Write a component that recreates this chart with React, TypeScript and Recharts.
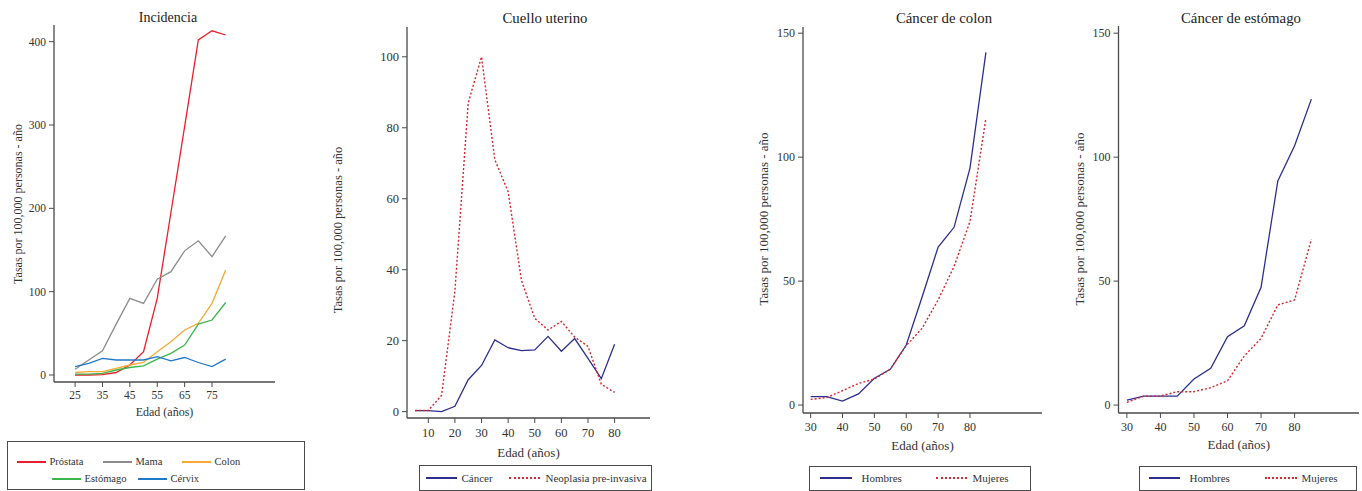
import React from 'react';
import { LineChart, Line, XAxis, YAxis } from 'recharts';

const FONT = '"Liberation Serif", "DejaVu Serif", serif';
const AXIS = '#4a4a4a';
const TEXT = '#333';
const H = 491;

// Incidencia (ages 25..80)
const ages1 = [25, 30, 35, 40, 45, 50, 55, 60, 65, 70, 75, 80];
const prostata = [0, 0, 0.5, 3, 12, 28, 92, 195, 298, 402, 413, 408];
const mama = [7, 18, 29, 61, 92, 86, 115, 124, 149, 161, 142, 167];
const colon = [3, 4, 4, 8, 12, 15, 28, 40, 54, 62, 86, 126];
const estomago = [1, 1, 2, 6, 9, 11, 19, 26, 36, 61, 66, 87];
const cervix = [10, 14, 20, 18, 18, 18, 22, 17, 21, 15, 10, 19];

// Cuello uterino (ages 5..80)
const ages2 = [5, 10, 15, 20, 25, 30, 35, 40, 45, 50, 55, 60, 65, 70, 75, 80];
const cancer = [0.3, 0.3, 0, 1.5, 9, 13, 20.2, 18, 17.2, 17.4, 21.2, 17, 20.6, 15, 9.3, 19];
const neoplasia = [0.3, 0.3, 4.6, 34, 87, 100, 71, 62, 37, 26.3, 23, 25.4, 21, 18.4, 7.7, 5.4];

// Colon / estómago (ages 30..85)
const ages3 = [30, 35, 40, 45, 50, 55, 60, 65, 70, 75, 80, 85];
const colonHombres = [3.4, 3.4, 1.6, 4.5, 10.8, 14.4, 24.2, 43.7, 63.7, 71.7, 95.6, 142.3];
const colonMujeres = [2.3, 3, 5.8, 8.7, 10.5, 14.5, 24, 31, 42.4, 55.9, 74, 115.7];
const estHombres = [2, 3.6, 3.6, 3.6, 10.5, 14.8, 27.6, 32, 47.5, 90.4, 104.6, 123.4];
const estMujeres = [1.1, 3.6, 3.6, 5.4, 5.4, 7, 9.8, 19.8, 26.9, 40.4, 42.4, 66.9];

const RED = '#e8202a';
const NAVY = '#2b2f8f';
const RED_DOT = '#d7262e';

const yTitle = 'Tasas por 100,000 personas - año';
const xTitle = 'Edad (años)';

type Series = { key: string; name: string; values: number[]; color: string; dotted?: boolean };

const AxisText = ({ px, py, text, size, rotate }: any) => (
  <text
    x={px}
    y={py}
    textAnchor="middle"
    dominantBaseline="central"
    transform={rotate ? `rotate(-90 ${px} ${py})` : undefined}
    fontSize={size}
    fontFamily={FONT}
    fill={TEXT}
  >
    {text}
  </text>
);

interface PanelProps {
  left: number;
  width: number;
  plot: { left: number; right: number; top: number; bottom: number };
  ages: number[];
  series: Series[];
  xDomain: [number, number];
  xTicks: number[];
  yDomain: [number, number];
  yTicks: number[];
  tickSize: number;
  xTitleY: number;
  xTitleSize: number;
  yTitleX: number;
  yTitleY: number;
  yTitleSize: number;
  xTickMargin: number;
  title: string;
  titleX: number;
  titleSize: number;
}

function Panel(p: PanelProps) {
  const data = p.ages.map((age, i) => {
    const row: Record<string, number> = { age };
    p.series.forEach((s) => { row[s.key] = s.values[i]; });
    return row;
  });
  const xAxisH = 30;
  const yAxisW = p.plot.left - p.left;
  const tick = { fill: TEXT, fontSize: p.tickSize, fontFamily: FONT };
  return (
    <div style={{ position: 'absolute', left: p.left, top: 0, width: p.width, height: H }}>
      <div
        style={{
          position: 'absolute', left: p.titleX - p.left - 150, top: 8, width: 300, textAlign: 'center',
          fontFamily: FONT, fontSize: p.titleSize, color: '#222', lineHeight: '20px',
        }}
      >
        {p.title}
      </div>
      <LineChart
        width={p.width}
        height={H}
        data={data}
        margin={{ top: p.plot.top, right: p.left + p.width - p.plot.right, bottom: H - p.plot.bottom - xAxisH, left: 0 }}
      >
        <XAxis
          type="number"
          dataKey="age"
          domain={p.xDomain}
          ticks={p.xTicks}
          interval={0}
          allowDataOverflow
          height={xAxisH}
          stroke={AXIS}
          axisLine={{ stroke: AXIS, strokeWidth: 1.3 }}
          tickLine={{ stroke: AXIS }}
          tickSize={5}
          tickMargin={p.xTickMargin}
          tick={tick}
          label={<AxisText px={(p.plot.left + p.plot.right) / 2 - p.left} py={p.xTitleY} text={xTitle} size={p.xTitleSize} />}
        />
        <YAxis
          type="number"
          domain={p.yDomain}
          ticks={p.yTicks}
          interval={0}
          allowDataOverflow
          width={yAxisW}
          stroke={AXIS}
          axisLine={{ stroke: AXIS, strokeWidth: 1.3 }}
          tickLine={{ stroke: AXIS }}
          tickSize={5}
          tickMargin={3}
          tick={tick}
          label={<AxisText px={p.yTitleX - p.left} py={p.yTitleY} text={yTitle} size={p.yTitleSize} rotate />}
        />
        {p.series.map((s) => (
          <Line
            key={s.key}
            type="linear"
            dataKey={s.key}
            name={s.name}
            stroke={s.color}
            strokeWidth={s.dotted ? 1.4 : 1.3}
            strokeDasharray={s.dotted ? '2 2' : undefined}
            dot={false}
            activeDot={false}
            isAnimationActive={false}
          />
        ))}
      </LineChart>
    </div>
  );
}

// legend sample: line of width w at x, label after a gap
const LegendItem = ({ x, y, w = 30, gap = 5, color, label, dotted, size }: any) => (
  <>
    <div
      style={{
        position: 'absolute', left: x, top: y - 1, width: w, height: 0,
        borderTop: `2px ${dotted ? 'dotted' : 'solid'} ${color}`,
      }}
    />
    <div
      style={{
        position: 'absolute', left: x + w + gap, top: y - 8, fontFamily: FONT,
        fontSize: size, color: TEXT, lineHeight: '16px', whiteSpace: 'nowrap',
      }}
    >
      {label}
    </div>
  </>
);

const LegendBox = ({ left, top, width, height, children }: any) => (
  <div
    style={{
      position: 'absolute', left, top, width, height, boxSizing: 'border-box',
      border: `1.5px solid ${AXIS}`, background: '#fff',
    }}
  >
    {children}
  </div>
);

const incidencia: Series[] = [
  { key: 'prostata', name: 'Próstata', values: prostata, color: RED },
  { key: 'mama', name: 'Mama', values: mama, color: '#8c8c8c' },
  { key: 'colon', name: 'Colon', values: colon, color: '#f7a935' },
  { key: 'estomago', name: 'Estómago', values: estomago, color: '#3cb64a' },
  { key: 'cervix', name: 'Cérvix', values: cervix, color: '#1f78c8' },
];

const cuello: Series[] = [
  { key: 'cancer', name: 'Cáncer', values: cancer, color: NAVY },
  { key: 'neo', name: 'Neoplasia pre-invasiva', values: neoplasia, color: RED_DOT, dotted: true },
];

const colonSeries: Series[] = [
  { key: 'h', name: 'Hombres', values: colonHombres, color: NAVY },
  { key: 'm', name: 'Mujeres', values: colonMujeres, color: RED_DOT, dotted: true },
];

const estSeries: Series[] = [
  { key: 'h', name: 'Hombres', values: estHombres, color: NAVY },
  { key: 'm', name: 'Mujeres', values: estMujeres, color: RED_DOT, dotted: true },
];

export default function App() {
  return (
    <div style={{ position: 'absolute', left: 0, top: 0, width: 1362, height: H, background: '#fff', overflow: 'hidden' }}>
      <Panel
        left={0} width={300}
        plot={{ left: 54, right: 275, top: 25, bottom: 382 }}
        ages={ages1} series={incidencia}
        xDomain={[17.3, 98]} xTicks={[25, 35, 45, 55, 65, 75]}
        yDomain={[-8.4, 420]} yTicks={[0, 100, 200, 300, 400]}
        tickSize={11.5} xTickMargin={4}
        xTitleY={412} xTitleSize={12}
        yTitleX={18} yTitleY={204} yTitleSize={12}
        title="Incidencia" titleX={168} titleSize={14}
      />
      <Panel
        left={310} width={350}
        plot={{ left: 407, right: 650, top: 27, bottom: 418 }}
        ages={ages2} series={cuello}
        xDomain={[2, 93.3]} xTicks={[10, 20, 30, 40, 50, 60, 70, 80]}
        yDomain={[-1.8, 108.4]} yTicks={[0, 20, 40, 60, 80, 100]}
        tickSize={12.5} xTickMargin={5}
        xTitleY={452} xTitleSize={13}
        yTitleX={338} yTitleY={230} yTitleSize={12.5}
        title="Cuello uterino" titleX={545} titleSize={14.8}
      />
      <Panel
        left={740} width={310}
        plot={{ left: 803, right: 1042, top: 27, bottom: 413 }}
        ages={ages3} series={colonSeries}
        xDomain={[27.6, 102.6]} xTicks={[30, 40, 50, 60, 70, 80]}
        yDomain={[-3.2, 152.5]} yTicks={[0, 50, 100, 150]}
        tickSize={12} xTickMargin={4.5}
        xTitleY={445} xTitleSize={13}
        yTitleX={763} yTitleY={219} yTitleSize={13}
        title="Cáncer de colon" titleX={944} titleSize={14.8}
      />
      <Panel
        left={1060} width={302}
        plot={{ left: 1118.5, right: 1359, top: 26, bottom: 413 }}
        ages={ages3} series={estSeries}
        xDomain={[27.5, 99.2]} xTicks={[30, 40, 50, 60, 70, 80]}
        yDomain={[-3.2, 152.9]} yTicks={[0, 50, 100, 150]}
        tickSize={12} xTickMargin={4.5}
        xTitleY={444} xTitleSize={13}
        yTitleX={1079} yTitleY={219} yTitleSize={13}
        title="Cáncer de estómago" titleX={1241} titleSize={14.8}
      />

      <LegendBox left={7} top={441} width={298} height={49}>
        <LegendItem x={8.5} y={20} w={29} gap={4} color={RED} label="Próstata" size={10.5} />
        <LegendItem x={94.5} y={20} w={29} gap={4} color="#8c8c8c" label="Mama" size={10.5} />
        <LegendItem x={173.5} y={20} w={29} gap={4} color="#f7a935" label="Colon" size={10.5} />
        <LegendItem x={43.5} y={37} w={29} gap={4} color="#3cb64a" label="Estómago" size={10.5} />
        <LegendItem x={129.5} y={37} w={29} gap={4} color="#1f78c8" label="Cérvix" size={10.5} />
      </LegendBox>
      <LegendBox left={419} top={465} width={233} height={26}>
        <LegendItem x={5.5} y={12} w={31} gap={5} color={NAVY} label="Cáncer" size={11} />
        <LegendItem x={88.5} y={12} w={31} gap={6} color={RED_DOT} label="Neoplasia pre-invasiva" dotted size={11} />
      </LegendBox>
      <LegendBox left={809} top={466} width={222} height={25}>
        <LegendItem x={9.5} y={11} w={32} gap={10} color={NAVY} label="Hombres" size={11} />
        <LegendItem x={125.5} y={11} w={31} gap={6} color={RED_DOT} label="Mujeres" dotted size={11} />
      </LegendBox>
      <LegendBox left={1139} top={466} width={218} height={25}>
        <LegendItem x={8.5} y={11} w={31} gap={10} color={NAVY} label="Hombres" size={11} />
        <LegendItem x={124.5} y={11} w={32} gap={5} color={RED_DOT} label="Mujeres" dotted size={11} />
      </LegendBox>
    </div>
  );
}
